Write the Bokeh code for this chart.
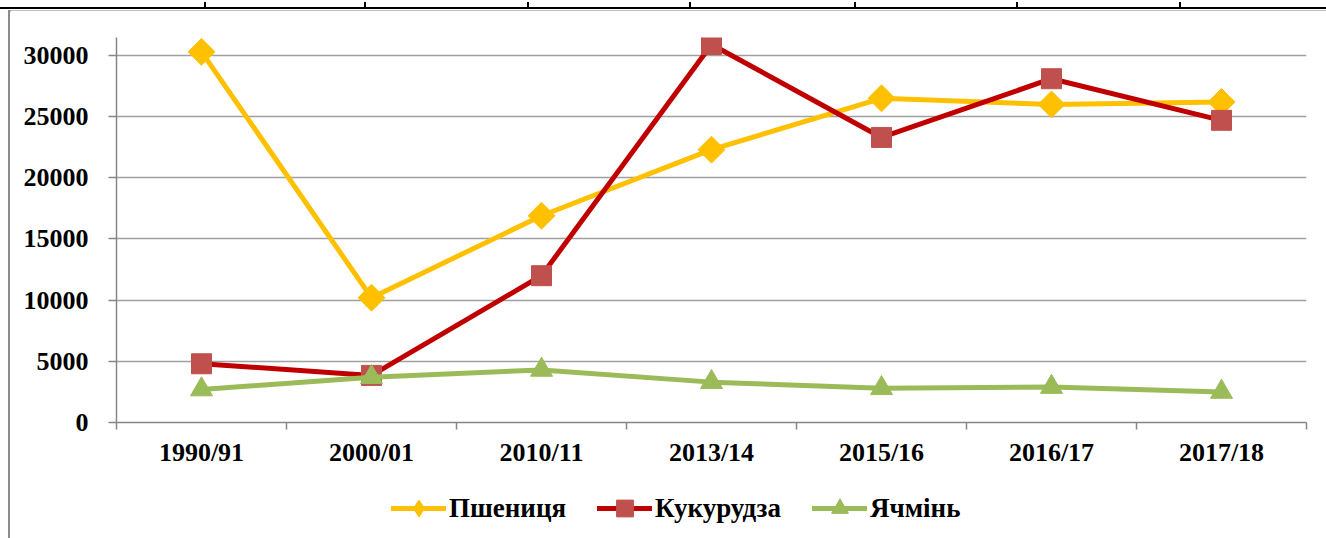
import math
from bokeh.plotting import figure
from bokeh.models import Range1d, FixedTicker, Legend, LegendItem, Div
from bokeh.layouts import column, row
from bokeh.embed import file_html
from bokeh.resources import INLINE

categories = ["1990/91", "2000/01", "2010/11", "2013/14", "2015/16", "2016/17", "2017/18"]
wheat = [30300, 10200, 16900, 22300, 26500, 26000, 26200]
corn = [4800, 3850, 12000, 30900, 23300, 28100, 24700]
barley = [2700, 3700, 4300, 3300, 2800, 2900, 2500]
y_ticks = [0, 5000, 10000, 15000, 20000, 25000, 30000]
series_names = ["Пшениця", "Кукурудза", "Ячмінь"]

FONT = "Liberation Serif"
AXIS_GRAY = "#868686"

x = [i + 0.5 for i in range(len(categories))]

p = figure(width=1316, height=460, output_backend="svg", toolbar_location=None,
           x_range=Range1d(0, len(categories)), y_range=Range1d(0, 31470),
           min_border_left=106, min_border_right=20, min_border_top=27, min_border_bottom=48,
           margin=0)
p.outline_line_color = None
p.background_fill_color = "white"
p.border_fill_color = "white"

# x axis
p.xaxis.ticker = FixedTicker(ticks=x, minor_ticks=list(range(len(categories) + 1)))
p.xaxis.major_label_overrides = {xi: c for xi, c in zip(x, categories)}
p.xaxis.major_tick_out = 0
p.xaxis.major_tick_in = 0
p.xaxis.minor_tick_out = 7
p.xaxis.minor_tick_in = 0
p.xaxis.minor_tick_line_color = AXIS_GRAY
p.xaxis.minor_tick_line_width = 1.5
p.xaxis.major_label_standoff = 8
p.xaxis.major_label_text_font_size = "26px"

# y axis
p.yaxis.ticker = FixedTicker(ticks=y_ticks, minor_ticks=[])
p.yaxis.major_tick_out = 8
p.yaxis.major_tick_in = 0
p.yaxis.major_tick_line_color = AXIS_GRAY
p.yaxis.major_tick_line_width = 1.5
p.yaxis.major_label_standoff = 20
p.yaxis.major_label_text_font_size = "26px"

for ax in (p.xaxis, p.yaxis):
    ax.axis_line_color = AXIS_GRAY
    ax.axis_line_width = 1.5
    ax.major_label_text_font = FONT
    ax.major_label_text_font_style = "bold"
    ax.major_label_text_color = "black"

p.xgrid.visible = False
p.ygrid.ticker = FixedTicker(ticks=y_ticks, minor_ticks=[])
p.ygrid.grid_line_color = "#A0A0A0"
p.ygrid.grid_line_width = 1.5

styles = [
    dict(line="#FFC000", fill="#FFC000", marker="square", angle=math.pi / 4, size=19, lmarker="diamond"),
    dict(line="#C00000", fill="#C0504D", marker="square", angle=0, size=20, lmarker="square"),
    dict(line="#9BBB59", fill="#9BBB59", marker="triangle", angle=0, size=22, lmarker="triangle"),
]

for vals, st in zip([wheat, corn, barley], styles):
    p.line(x, vals, line_color=st["line"], line_width=5, line_cap="round", line_join="round")
    p.scatter(x, vals, marker=st["marker"], angle=st["angle"], size=st["size"],
              fill_color=st["fill"], line_color=st["fill"], line_width=1)

# legend strip: a second figure whose frame holds the legend
lg = figure(width=1316, height=68, output_backend="svg", toolbar_location=None,
            x_range=Range1d(-20, -19), y_range=Range1d(-20, -19),
            x_axis_type=None, y_axis_type=None, min_border=0, margin=0)
lg.outline_line_color = None
lg.grid.visible = False
items = []
for name, vals, st in zip(series_names, [wheat, corn, barley], styles):
    lr = lg.line(x, vals, line_color=st["line"], line_width=5, line_cap="round")
    sr = lg.scatter(x, vals, marker=st["lmarker"], size=st["size"],
                    fill_color=st["fill"], line_color=st["fill"], line_width=1)
    items.append(LegendItem(label=name, renderers=[lr, sr]))
legend = Legend(items=items, location=(275, 9), orientation="horizontal",
                glyph_width=55, glyph_height=42, label_standoff=3, spacing=31,
                padding=0, margin=0, border_line_color=None, background_fill_alpha=0,
                label_text_font=FONT, label_text_font_style="bold",
                label_text_font_size="27px", label_text_color="black")
lg.add_layout(legend)

# cut-off table border above the chart and the chart's frame
seps = "".join(
    f'<div style="position:absolute;left:{sx - 1}px;top:0;width:2px;height:6px;background:#000"></div>'
    for sx in [205, 365, 528, 690, 855, 1017, 1180])
top_html = ('<div style="position:relative;width:1326px;height:10px;overflow:hidden">'
            '<div style="position:absolute;left:0;top:5px;width:1326px;height:2px;background:#000"></div>'
            + seps +
            '<div style="position:absolute;left:8px;top:8px;width:1318px;height:2px;background:#A8A8A8"></div>'
            '</div>')
left_html = ('<div style="position:relative;width:10px;height:528px;overflow:hidden">'
             '<div style="position:absolute;left:8px;top:0;width:2px;height:528px;background:#8C8C8C"></div>'
             '</div>')
top_div = Div(text=top_html, width=1326, height=10, margin=0)
left_div = Div(text=left_html, width=10, height=528, margin=0)

layout = column(top_div, row(left_div, column(p, lg, spacing=0), spacing=0), spacing=0)

open("out.html", "w").write(file_html(layout, INLINE))
